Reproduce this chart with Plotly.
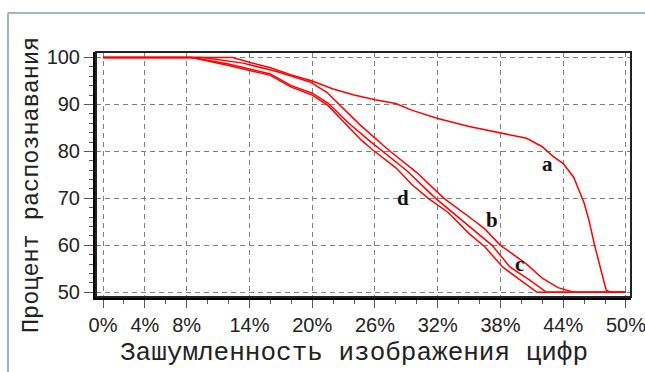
import plotly.graph_objects as go

# ---- data ----
a_x = [0, 9, 12.4, 14, 16, 18, 20, 22, 24, 26, 28, 29.5, 32, 35, 38, 40.5, 42, 43, 44, 45, 46, 46.5, 47, 48.1, 48.5, 50]
a_y = [100, 100, 100, 99, 97.8, 96.3, 95, 93.3, 92, 91, 90.2, 88.8, 87, 85.3, 84, 82.8, 81, 79, 77.4, 74.5, 69, 65, 60, 50.5, 50, 50]

b_x = [0, 9.5, 13.4, 16.6, 19.8, 21.4, 24.6, 27.3, 30, 32.6, 35.4, 36.5, 38, 40.5, 42, 43.5, 45, 50]
b_y = [100, 100, 98.8, 97, 94.8, 92.6, 85.6, 80.3, 75.5, 70, 65.4, 63.5, 60, 56, 53, 51, 50, 50]

c_x = [0, 8.5, 12, 14, 16, 18, 20, 21.5, 23.5, 25.4, 26.6, 29, 31.8, 34, 37.2, 38.9, 40.8, 42.4, 50]
c_y = [100, 100, 98.6, 97.5, 96.5, 94, 92.4, 90.3, 86, 82.4, 80.3, 76, 70, 66, 60, 55.4, 52.6, 50, 50]

d_x = [0, 8.5, 12, 14, 16, 18, 20, 21.5, 23.5, 24.7, 25.8, 28, 29.5, 31.1, 33, 35, 36.5, 38.2, 39.9, 41.5, 50]
d_y = [100, 100, 98.3, 97.2, 96.2, 93.7, 92.0, 89.8, 85.2, 82.4, 80.3, 76.5, 73, 70, 67, 62.5, 59.7, 55.4, 52.6, 50, 50]

x_ticks = [0, 4, 8, 14, 20, 26, 32, 38, 44, 50]
x_ticktext = ["0%", "4%", "8%", "14%", "20%", "26%", "32%", "38%", "44%", "50%"]
y_ticks = [50, 60, 70, 80, 90, 100]

curve_labels = ["a", "b", "c", "d"]
label_x = [42.5, 37.2, 39.8, 28.7]
label_y = [77.4, 65.4, 56.1, 70.0]

x_title = "Зашумленность изображения цифр"
y_title = "Процент распознавания"

# ---- figure ----
fig = go.Figure()
for xs, ys in [(a_x, a_y), (b_x, b_y), (c_x, c_y), (d_x, d_y)]:
    fig.add_trace(go.Scatter(x=xs, y=ys, mode="lines",
                             line=dict(color="#ff0000", width=1.5),
                             showlegend=False, hoverinfo="skip"))

for t, lx, ly in zip(curve_labels, label_x, label_y):
    fig.add_annotation(x=lx, y=ly, text="<b>%s</b>" % t, showarrow=False,
                       xanchor="center", yanchor="middle",
                       font=dict(family="Liberation Serif", size=21, color="#111"))

L, R, T, B = 96, 14, 52, 75
W, H = 645, 372
pw, ph = W - L - R, H - T - B

def px(xp):
    return (xp - L) / pw

def py(yp):
    return (H - B - yp) / ph

# titles as annotations
fig.add_annotation(xref="paper", yref="paper", x=px(354), y=py(353), text=x_title,
                   showarrow=False, xanchor="center", yanchor="middle",
                   font=dict(family="Liberation Mono", size=26, color="#222"))
fig.add_annotation(xref="paper", yref="paper", x=px(31), y=py(185), text=y_title,
                   showarrow=False, textangle=-90, xanchor="center", yanchor="middle",
                   font=dict(family="Liberation Mono", size=23.5, color="#222"))

# outer frame lines
fig.add_shape(type="line", xref="paper", yref="paper", x0=px(8), x1=px(700), y0=py(13), y1=py(13),
              line=dict(color="#9fb3c9", width=2))
fig.add_shape(type="line", xref="paper", yref="paper", x0=px(8), x1=px(8), y0=py(13), y1=py(400),
              line=dict(color="#9fb3c9", width=2))
# plot border (top/right)
fig.add_shape(type="rect", xref="paper", yref="paper", x0=0, x1=1, y0=0, y1=1,
              line=dict(color="#222", width=2))

grid = dict(showgrid=True, gridcolor="#808080", gridwidth=1, griddash="5px,4px", zeroline=False)

fig.update_xaxes(range=[-0.67, 50.48], tickmode="array", tickvals=x_ticks, ticktext=x_ticktext,
                 ticks="outside", ticklen=8, tickcolor="#555", tickwidth=1, automargin=False,
                 showline=True, linecolor="#000", linewidth=3, ticklabeloverflow="allow",
                 tickfont=dict(family="Liberation Sans", size=20, color="#222"),
                 minor=dict(ticks="outside", ticklen=4, tickcolor="#555", dtick=2, tick0=0, showgrid=False),
                 **grid)
fig.update_yaxes(range=[49.0, 101.17], tickmode="array", tickvals=y_ticks,
                 ticks="outside", ticklen=9, tickcolor="#555", tickwidth=1, automargin=False,
                 showline=True, linecolor="#000", linewidth=3, ticklabeloverflow="allow",
                 tickfont=dict(family="Liberation Sans", size=20, color="#222"),
                 minor=dict(ticks="outside", ticklen=4, tickcolor="#555", dtick=2, tick0=0, showgrid=False),
                 **grid)

fig.update_layout(width=W, height=H, margin=dict(l=L, r=R, t=T, b=B, autoexpand=False),
                  paper_bgcolor="white", plot_bgcolor="white")

fig.write_html("out.html", config={"displayModeBar": False},
               post_script="document.body.style.margin='0px';document.body.style.overflow='hidden';")
